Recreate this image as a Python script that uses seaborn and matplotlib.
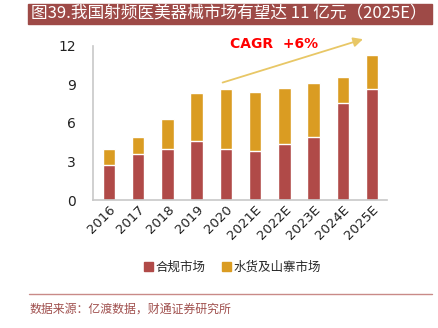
import matplotlib
matplotlib.use("Agg")
import matplotlib.pyplot as plt
import seaborn as sns
import pandas as pd
from matplotlib.patches import Rectangle
from matplotlib.lines import Line2D

years = ["2016", "2017", "2018", "2019", "2020", "2021E", "2022E", "2023E", "2024E", "2025E"]
compliant = [2.75, 3.55, 3.97, 4.56, 3.97, 3.84, 4.38, 4.92, 7.57, 8.63]
grey_market = [1.19, 1.37, 2.35, 3.76, 4.64, 4.56, 4.33, 4.20, 2.02, 2.67]
totals = [c + g for c, g in zip(compliant, grey_market)]
series_names = ["合规市场", "水货及山寨市场"]
title_text = "图39.我国射频医美器械市场有望达 11 亿元（2025E）"
source_text = "数据来源：亿渡数据，财通证券研究所"
cagr_text = "CAGR  +6%"
y_ticks = [0, 3, 6, 9, 12]

RED = "#B04A48"
GOLD = "#DA9C22"

sns.set_theme(style="white")
plt.rcParams["font.family"] = ["Noto Sans CJK SC", "DejaVu Sans"]

df = pd.DataFrame({"year": years, "compliant": compliant, "total": totals})

W, H = 438, 328
fig = plt.figure(figsize=(W / 100, H / 100), dpi=100)
ax = fig.add_axes([92.7 / W, 1 - 200 / H, (386.7 - 92.7) / W, (200 - 45.7) / H])

# Stacked bars: draw totals first in gold, then the compliant part in red on top
sns.barplot(data=df, x="year", y="total", color=GOLD, saturation=1, width=0.43, ax=ax)
sns.barplot(data=df, x="year", y="compliant", color=RED, saturation=1, width=0.43, ax=ax)

ax.set_xlim(-0.55, 9.5)
ax.set_ylim(0, 12)
ax.set_yticks(y_ticks)
ax.set_yticklabels([str(t) for t in y_ticks], fontsize=10, color="#222222")
ax.set_xlabel("")
ax.set_ylabel("")
ax.tick_params(axis="x", labelsize=9.5, pad=2, colors="#222222", length=0)
ax.tick_params(axis="y", pad=12, length=0)
for lab in ax.get_xticklabels():
    lab.set_rotation(45)
    lab.set_ha("right")
    lab.set_rotation_mode("anchor")
    lab.set_family(["DejaVu Sans"])
for lab in ax.get_yticklabels():
    lab.set_family(["DejaVu Sans"])

for side in ["top", "right"]:
    ax.spines[side].set_visible(False)
for side in ["left", "bottom"]:
    ax.spines[side].set_color("#C8C8C8")
    ax.spines[side].set_linewidth(1.2)

# Growth arrow and CAGR label
ax.annotate("", xy=(8.78, 12.57), xytext=(3.80, 9.07),
            arrowprops=dict(arrowstyle="-|>", color="#E8C766", lw=1.3, mutation_scale=14),
            annotation_clip=False)
ax.text(4.15, 12.15, cagr_text, color="#FF0000", fontsize=10, fontweight="bold",
        ha="left", va="center", family=["DejaVu Sans"], clip_on=False)

# Legend
handles = [Rectangle((0, 0), 1, 1, color=RED), Rectangle((0, 0), 1, 1, color=GOLD)]
fig.legend(handles, series_names, loc="center", bbox_to_anchor=(232.5 / W, 1 - 267 / H),
           ncol=2, frameon=False, fontsize=9, handlelength=0.7, handleheight=0.7,
           handletextpad=0.25, columnspacing=1.3)

# Title banner
fig.patches.append(Rectangle((28 / W, 1 - 23.5 / H), (432 - 28) / W, 20 / H,
                             transform=fig.transFigure, color="#9E4A47", zorder=0))
fig.text(31 / W, 1 - 13.5 / H, title_text, color="white", fontsize=12,
         ha="left", va="center")

# Footer rule and source
fig.add_artist(Line2D([29 / W, 432 / W], [1 - 294 / H, 1 - 294 / H],
                      transform=fig.transFigure, color="#C98A88", lw=1))
fig.text(30 / W, 1 - 309 / H, source_text, color="#A0504E", fontsize=8.6,
         ha="left", va="center")

fig.savefig("out.png", dpi=100)
